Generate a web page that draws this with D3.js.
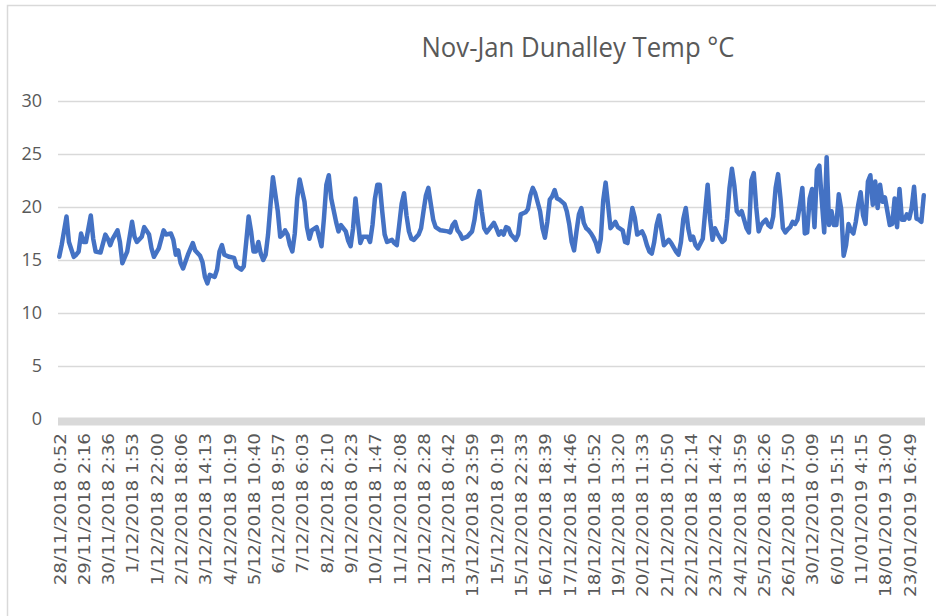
<!DOCTYPE html>
<html>
<head>
<meta charset="utf-8">
<script src="https://cdn.jsdelivr.net/npm/d3@7"></script>
<style>
  html, body { margin: 0; padding: 0; background: #fff; }
  svg { display: block; }
</style>
</head>
<body>
<svg id="chart" width="936" height="616"></svg>
<script>
// Logger readings: ordinal of each reading and its temperature (°C)
const readingCount = 357;
const labelEvery = 10;
const readingNo = [
  0,1,3,4,6,7,8,9,10,11,13,14,15,17,19,20,21,22,24,25,26,28,30,31,32,34,35,37,38,39,
  41,43,44,46,47,48,49,50,51,53,55,56,58,59,60,61,62,64,65,66,67,68,70,72,73,75,76,77,78,79,
  80,81,82,83,84,85,86,87,88,90,91,92,93,94,95,96,97,98,99,101,102,103,104,106,107,108,109,110,111,112,
  114,115,116,118,119,120,121,122,123,124,125,127,128,129,130,131,132,133,134,135,137,138,139,140,141,142,143,144,145,146,
  148,149,150,151,152,153,154,155,157,160,161,162,163,164,165,166,168,170,171,172,173,174,175,176,178,179,180,181,182,183,
  184,185,186,188,189,190,192,193,194,195,196,198,199,200,201,202,203,204,205,206,208,209,210,211,212,213,214,215,216,217,
  218,219,220,221,222,223,224,225,226,227,228,229,230,232,233,234,235,236,237,238,240,241,242,243,244,245,246,247,248,249,
  251,252,254,255,256,257,258,259,260,261,262,263,265,266,267,268,269,270,271,273,274,275,276,277,278,279,280,281,282,283,
  284,285,286,287,288,289,290,291,292,293,294,295,296,297,298,299,300,301,302,303,304,305,306,307,308,309,310,311,312,313,
  314,315,316,317,318,319,320,321,322,323,324,325,326,327,328,329,330,331,332,333,334,335,336,337,338,339,340,341,342,343,
  344,345,346,347,348,349,350,351,352,353,354,355,356
];
const tempC = [
  15.3,16.4,19.1,16.7,15.3,15.5,15.8,17.5,16.7,16.7,19.2,17.0,15.8,15.7,17.4,17.0,16.4,17.0,17.8,16.7,14.7,15.8,18.6,17.2,16.7,17.2,18.1,17.4,16.1,15.3,
  16.1,17.8,17.4,17.5,16.9,15.5,15.9,14.7,14.2,15.5,16.6,15.9,15.4,14.8,13.4,12.8,13.6,13.4,14.1,15.8,16.4,15.5,15.3,15.2,14.4,14.1,14.4,16.7,19.1,17.7,
  15.8,15.8,16.7,15.6,15.0,15.5,17.4,20.2,22.8,19.6,17.2,17.4,17.8,17.4,16.4,15.8,17.5,20.8,22.6,20.5,18.1,17.0,17.8,18.1,17.2,16.3,18.9,22.1,23.0,20.8,
  18.6,17.7,18.3,17.7,16.8,16.3,18.0,20.8,18.6,16.6,17.2,17.2,16.7,18.3,20.8,22.1,22.1,19.6,17.4,16.7,16.9,16.6,16.4,18.3,20.3,21.3,19.2,17.7,17.0,16.9,
  17.4,18.0,19.6,21.1,21.8,20.3,18.8,18.1,17.8,17.7,17.6,18.3,18.6,17.8,17.5,17.0,17.2,17.7,18.8,20.5,21.5,19.6,18.0,17.6,18.2,18.5,18.0,17.4,17.7,17.4,
  18.1,18.0,17.4,16.9,17.4,19.3,19.5,19.8,21.1,21.8,21.3,19.6,18.0,17.1,18.6,20.7,21.0,21.6,20.8,20.7,20.3,19.6,18.4,16.7,15.9,17.7,19.3,19.9,18.5,18.0,
  17.8,17.5,17.1,16.6,15.8,17.0,20.6,22.3,20.2,18.0,18.3,18.6,18.1,17.8,16.7,16.6,18.3,19.9,19.0,17.4,17.7,17.2,16.4,15.8,15.6,16.7,18.3,19.2,17.8,16.4,
  16.9,16.6,15.8,15.5,16.7,18.9,19.9,18.0,16.9,17.2,16.4,16.1,17.0,19.6,22.1,18.9,16.9,18.0,17.5,16.7,16.9,18.9,21.8,23.6,22.0,19.6,19.3,19.6,18.8,18.0,
  17.6,22.5,23.2,20.0,17.7,18.3,18.6,18.8,18.3,18.1,19.1,21.8,23.1,20.8,18.0,17.6,17.9,18.1,18.6,18.4,18.8,20.2,21.8,17.5,17.6,20.8,21.7,18.1,23.5,23.9,
  20.6,17.6,24.7,18.3,19.6,18.3,18.3,21.2,19.8,15.4,16.4,18.4,17.8,17.5,18.6,20.2,21.4,19.2,18.4,22.4,23.0,20.2,22.4,19.9,22.1,20.5,20.9,19.6,18.3,18.4,
  20.8,18.1,21.7,18.8,18.8,19.3,18.9,19.9,21.9,18.9,18.8,18.6,21.1
];
const tickLabels = [
  "28/11/2018 0:52","29/11/2018 2:16","30/11/2018 2:36","1/12/2018 1:53","1/12/2018 22:00",
  "2/12/2018 18:06","3/12/2018 14:13","4/12/2018 10:19","5/12/2018 10:40","6/12/2018 9:57",
  "7/12/2018 6:03","8/12/2018 2:10","9/12/2018 0:23","10/12/2018 1:47","11/12/2018 2:08",
  "12/12/2018 2:28","13/12/2018 0:42","13/12/2018 23:59","15/12/2018 0:19","15/12/2018 22:33",
  "16/12/2018 18:39","17/12/2018 14:46","18/12/2018 10:52","19/12/2018 13:20","20/12/2018 11:33",
  "21/12/2018 10:50","22/12/2018 12:14","23/12/2018 14:42","24/12/2018 13:59","25/12/2018 16:26",
  "26/12/2018 17:50","30/12/2018 0:09","6/01/2019 15:15","11/01/2019 4:15","18/01/2019 13:00",
  "23/01/2019 16:49"
];
const yTicks = [0, 5, 10, 15, 20, 25, 30];
const chartTitle = "Nov-Jan Dunalley Temp °C";

const svg = d3.select("#chart");
const plot = { left: 58, right: 925, top: 101, bottom: 419 };

// chart frame
svg.append("path")
  .attr("d", `M7.5,616 V5.5 H936`)
  .attr("fill", "none")
  .attr("stroke", "#d9d9d9")
  .attr("stroke-width", 1.5);

const x = d3.scaleBand()
  .domain(d3.range(readingCount))
  .range([plot.left, plot.right])
  .padding(0);
const xc = i => x(i) + x.bandwidth() / 2;

const y = d3.scaleLinear().domain([0, 30]).range([plot.bottom, plot.top]);

// title
svg.append("text")
  .attr("x", 578).attr("y", 57)
  .attr("text-anchor", "middle")
  .attr("font-family", "'Open Sans', sans-serif")
  .attr("font-size", 27)
  .attr("fill", "#595959")
  .attr("textLength", 313)
  .attr("lengthAdjust", "spacingAndGlyphs")
  .text(chartTitle);

// horizontal gridlines and value labels
const yAxis = svg.append("g")
  .attr("transform", `translate(${plot.left},0)`)
  .call(d3.axisLeft(y).tickValues(yTicks).tickSize(-(plot.right - plot.left)).tickPadding(16));
yAxis.select(".domain").remove();
yAxis.selectAll(".tick line")
  .attr("stroke", "#d9d9d9")
  .attr("stroke-width", d => d === 0 ? 8 : 1.5)
  .attr("transform", d => d === 0 ? "translate(0,2)" : null);
yAxis.selectAll(".tick text")
  .attr("font-family", "'Open Sans', sans-serif")
  .attr("font-size", 18)
  .attr("fill", "#595959");

// category labels along the bottom
const xAxis = svg.append("g")
  .attr("transform", `translate(0,${plot.bottom})`)
  .call(d3.axisBottom(x)
    .tickValues(d3.range(0, readingCount, labelEvery))
    .tickSize(0)
    .tickFormat(i => tickLabels[i / labelEvery]));
xAxis.select(".domain").remove();
xAxis.selectAll(".tick text")
  .attr("font-family", "'DejaVu Sans', sans-serif")
  .attr("font-size", 15)
  .attr("fill", "#595959")
  .attr("text-anchor", "end")
  .attr("x", 0).attr("y", 0)
  .attr("dy", "0.36em")
  .attr("transform", "translate(1,14) rotate(-90) scale(1.22,1)");

// temperature line
const series = readingNo.map((n, k) => ({ n, t: tempC[k] }));
svg.append("path")
  .datum(series)
  .attr("fill", "none")
  .attr("stroke", "#4472c4")
  .attr("stroke-width", 4.5)
  .attr("stroke-linejoin", "round")
  .attr("stroke-linecap", "round")
  .attr("d", d3.line().x(d => xc(d.n)).y(d => y(d.t)));
</script>
</body>
</html>
